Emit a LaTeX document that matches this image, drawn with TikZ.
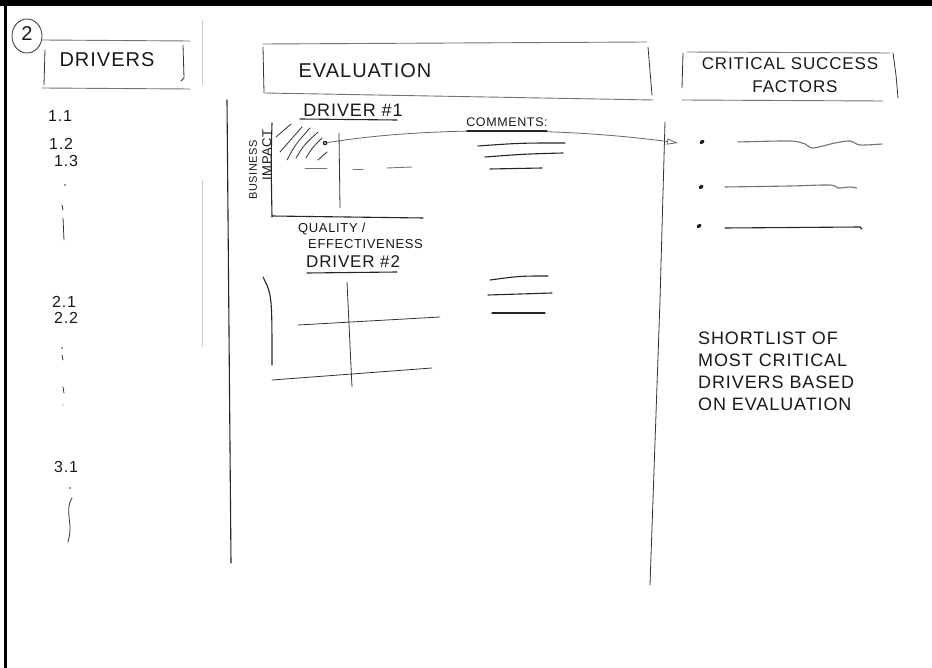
\documentclass[tikz,border=0pt]{standalone}
\usepackage{fontspec}
\newfontfamily\hand[LetterSpace=5]{Liberation Sans}
\usetikzlibrary{arrows.meta}
\begin{document}
\begin{tikzpicture}[x=1pt,y=-1pt,
  ink/.style={line width=1.1pt,draw=black!85,line cap=round,line join=round},
  thin ink/.style={line width=0.8pt,draw=black!80,line cap=round,line join=round},
  pale/.style={line width=0.9pt,draw=black!55,line cap=round},
  faint/.style={line width=0.5pt,draw=black!20},
  txt/.style={font=\hand\fontsize{#1}{#1}\selectfont,inner sep=0pt,text=black!90},
  hatch/.style={line width=0.8pt,draw=black!80,line cap=round},
  arrowline/.style={line width=0.8pt,draw=black!60,-{Triangle[open,length=11pt,width=6pt]}},
]
\useasboundingbox (0,0) rectangle (932,668);
\fill[white] (0,0) rectangle (932,668);
% scan border
\fill[black] (0,0) rectangle (932,6);
\fill[black] (3.5,0) rectangle (7,668);

% circled 2
\node[txt=20] (num) at (27,34) {2};
\draw[thin ink] (27,36) ellipse (15 and 17);

% DRIVERS header
\node[txt=20] (drv) at (107,60) {DRIVERS};
\draw[pale] (42,40) -- (190,41);
\draw[pale] (42,88) -- (190,89);
\draw[thin ink] (45,50) -- (44,85);
\draw[thin ink] (183,45) -- (184,78) -- (181,81);
\draw[faint] (202,20) -- (202,85);
\draw[faint] (202,180) -- (202,347);

% driver numbers
\node[txt=16] (n11) at (60,116) {1.1};
\node[txt=16] (n12) at (61,144) {1.2};
\node[txt=16] (n13) at (66,161) {1.3};
\fill[black!80] (65,185) circle (0.9);
\draw[thin ink] (62,205) -- (63,210);
\draw[thin ink] (63,218) -- (64,240);
\node[txt=16] (n21) at (64,302) {2.1};
\node[txt=16] (n22) at (66,318) {2.2};
\fill[black!80] (62,348) circle (0.8);
\draw[thin ink] (62,355) -- (63,360);
\draw[thin ink] (63,387) -- (64,393);
\fill[black!60] (63,405) circle (0.6);
\node[txt=16] (n31) at (66,467) {3.1};
\fill[black!80] (70,488) circle (0.9);
\draw[thin ink] (72,498) .. controls (66,506) and (70,520) .. (70,527) .. controls (70,533) .. (68,542);

% EVALUATION header
\node[txt=20] (eval) at (365,71) {EVALUATION};
\draw[pale] (263,44) -- (647,42);
\draw[pale] (265,93) -- (653,100);
\draw[thin ink] (263,47) -- (264,93);
\draw[thin ink] (648,47) -- (652,95);

% CSF header
\node[txt=17] (csf1) at (790,64) {CRITICAL SUCCESS};
\node[txt=17] (csf2) at (795,87) {FACTORS};
\draw[pale] (687,52) -- (890,53);
\draw[pale] (682,100) -- (883,101);
\draw[thin ink] (683,53) -- (682,88);
\draw[thin ink] (893,53) -- (896,75) -- (898,98);

% evaluation column borders
\draw[ink] (227,100) -- (231,563);
\draw[thin ink] (665,122) -- (660,300) -- (650,585);

% Driver #1
\node[txt=18] (d1) at (353,110) {DRIVER \#1};
\draw[ink] (300,119) -- (397,120);
% chart 1
\draw[ink] (272,123) .. controls (271,160) .. (272,217);
\draw[ink] (272,216) -- (423,218);
\draw[thin ink] (339,133) -- (340,208);
\draw[pale] (305,168) -- (327,168);
\draw[pale] (353,169) -- (363,169);
\draw[pale] (387,168) -- (412,167);
% hatching
\draw[hatch] (276,137) -- (291,124);
\draw[hatch] (280,152) -- (302,127);
\draw[hatch] (287,160) .. controls (295,145) .. (310,128);
\draw[hatch] (296,158) .. controls (304,145) .. (318,132);
\draw[hatch] (306,158) .. controls (312,148) .. (322,138);
\draw[hatch] (318,160) -- (327,152);
% business impact label
\node[txt=11,rotate=90] (bus) at (253,170) {BUSINESS};
\node[txt=13,rotate=90] (imp) at (267,155) {IMPACT};
% point and arrow
\coordinate (pt) at (325,143);
\coordinate (csfin) at (678,143);
\draw[arrowline] (pt) .. controls (420,127) and (560,127) .. (csfin);
\fill[black!85] (pt) circle (2.3);
\fill[white] (pt) circle (0.9);

% comments
\node[txt=12.5] (com) at (507,122) {COMMENTS:};
\draw[ink] (467,131) -- (547,131);
\draw[ink] (478,146) .. controls (520,143) .. (565,143);
\draw[ink] (485,157) .. controls (525,154) .. (563,153);
\draw[ink] (490,169) -- (542,168);

% Quality / effectiveness, Driver #2
\node[txt=13,anchor=west] (q) at (298,229) {QUALITY /};
\node[txt=13,anchor=west] (eff) at (308,244) {EFFECTIVENESS};
\node[txt=17,anchor=west] (d2) at (306,262) {DRIVER \#2};
\draw[ink] (307,273) -- (397,272);
% chart 2
\draw[ink] (263,277) .. controls (272,295) .. (272,365);
\draw[thin ink] (272,380) -- (432,368);
\draw[thin ink] (347,282) -- (352,387);
\draw[thin ink] (298,325) -- (440,317);
% comments 2
\draw[ink] (490,280) .. controls (520,276) .. (548,276);
\draw[ink] (488,295) -- (552,293);
\draw[ink] (492,313) -- (545,313);

% CSF bullets
\foreach \n/\x/\y in {b1/702/142,b2/701/187,b3/699/226}{
  \fill[black!90,rotate around={30:(\x,\y)}] (\x,\y) ellipse (2.6 and 1.8);
}
\draw[pale,line width=1.1pt] plot[smooth] coordinates {(738,142) (790,141) (805,144) (813,148) (835,143) (850,141) (860,145) (882,144)};
\draw[pale,line width=1.1pt] plot[smooth] coordinates {(725,187) (790,186) (830,185) (838,188) (850,187) (857,188)};
\draw[ink] (725,228) -- (860,227) -- (862,229);

% shortlist text
\node[txt=18,anchor=north west,align=left,font=\hand\fontsize{18}{22}\selectfont] (short) at (698,332)
  {SHORTLIST OF\\MOST CRITICAL\\DRIVERS BASED\\ON EVALUATION};
\end{tikzpicture}
\end{document}
